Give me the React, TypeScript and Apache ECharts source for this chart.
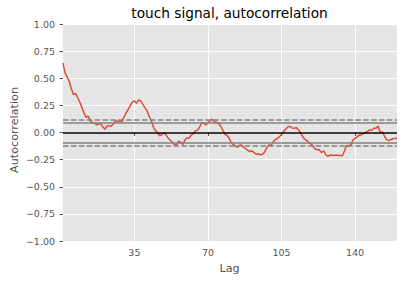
import React, { useEffect, useRef } from "react";
import * as echarts from "echarts";

const lags: number[] = Array.from({ length: 160 }, (_, i) => i + 1);
const acf: number[] = [
  0.64, 0.55, 0.51, 0.47, 0.40, 0.35, 0.36, 0.32, 0.28, 0.23,
  0.18, 0.14, 0.15, 0.11, 0.09, 0.09, 0.07, 0.08, 0.08, 0.05,
  0.03, 0.06, 0.06, 0.06, 0.08, 0.11, 0.10, 0.11, 0.10, 0.14,
  0.18, 0.21, 0.25, 0.28, 0.29, 0.27, 0.30, 0.29, 0.26, 0.23,
  0.20, 0.15, 0.11, 0.05, 0.02, 0.00, -0.03, -0.02, 0.00, -0.02,
  -0.05, -0.07, -0.09, -0.11, -0.12, -0.08, -0.09, -0.11, -0.07, -0.05,
  -0.05, -0.025, -0.01, 0.015, 0.02, 0.05, 0.09, 0.09, 0.07, 0.09,
  0.11, 0.12, 0.10, 0.095, 0.085, 0.06, 0.025, -0.015, -0.025, -0.05,
  -0.09, -0.11, -0.125, -0.135, -0.12, -0.115, -0.135, -0.15, -0.165, -0.175,
  -0.17, -0.185, -0.20, -0.195, -0.205, -0.20, -0.18, -0.14, -0.115, -0.12,
  -0.09, -0.065, -0.055, -0.04, -0.02, 0.01, 0.03, 0.05, 0.058, 0.042,
  0.04, 0.045, 0.025, 0.0, -0.035, -0.06, -0.075, -0.09, -0.105, -0.125,
  -0.15, -0.16, -0.16, -0.185, -0.17, -0.20, -0.22, -0.21, -0.207, -0.213,
  -0.207, -0.213, -0.213, -0.215, -0.17, -0.12, -0.122, -0.115, -0.07, -0.055,
  -0.04, -0.025, -0.02, -0.01, 0.0, 0.01, 0.025, 0.02, 0.04, 0.04,
  0.06, 0.0, 0.005, -0.03, -0.065, -0.075, -0.065, -0.058, -0.055, -0.05,
];
const xTicks: number[] = [35, 70, 105, 140];
const conf95 = 0.092;
const conf99 = 0.121;

const FONT = "DejaVu Sans";

export default function App() {
  const ref = useRef<HTMLDivElement>(null);
  useEffect(() => {
    if (!ref.current) return;
    const chart = echarts.init(ref.current, undefined, { renderer: "svg" });
    const fmtY = (v: number) => (v < 0 ? "\u2212" : "") + Math.abs(v).toFixed(2);
    chart.setOption({
      animation: false,
      grid: {
        left: 63,
        right: 10,
        top: 24,
        bottom: 41,
        show: true,
        backgroundColor: "#E5E5E5",
        borderWidth: 0,
      },
      xAxis: {
        type: "value",
        min: 1,
        max: 160,
        axisLine: { show: false },
        axisTick: {
          show: true,
          length: 3.5,
          customValues: xTicks,
          lineStyle: { color: "#555555", width: 1 },
        },
        axisLabel: {
          customValues: xTicks,
          color: "#555555",
          fontSize: 9.5,
          fontFamily: FONT,
          margin: 6,
        },
        splitLine: { show: true, lineStyle: { color: "#FFFFFF", width: 1 } },
      },
      yAxis: {
        type: "value",
        min: -1,
        max: 1,
        interval: 0.25,
        axisLine: { show: false },
        axisTick: { show: true, length: 3.5, lineStyle: { color: "#555555", width: 1 } },
        axisLabel: {
          color: "#555555",
          fontSize: 9.5,
          fontFamily: FONT,
          margin: 8,
          formatter: fmtY,
        },
        splitLine: { show: true, lineStyle: { color: "#FFFFFF", width: 1 } },
      },
      graphic: [
        {
          type: "text",
          x: 229.5,
          y: 12.5,
          style: {
            text: "touch signal, autocorrelation",
            fontSize: 13.7,
            fontFamily: FONT,
            fill: "#000000",
            textAlign: "center",
            textVerticalAlign: "middle",
          },
        },
        {
          type: "text",
          x: 229.5,
          y: 268.5,
          style: {
            text: "Lag",
            fontSize: 11.2,
            fontFamily: FONT,
            fill: "#555555",
            textAlign: "center",
            textVerticalAlign: "middle",
          },
        },
        {
          type: "text",
          x: 14,
          y: 130,
          rotation: Math.PI / 2,
          style: {
            text: "Autocorrelation",
            fontSize: 11.2,
            fontFamily: FONT,
            fill: "#555555",
            textAlign: "center",
            textVerticalAlign: "middle",
          },
        },
      ],
      series: [
        {
          type: "line",
          data: [],
          z: 1,
          silent: true,
          markLine: {
            silent: true,
            symbol: "none",
            label: { show: false },
            animation: false,
            data: [
              { yAxis: conf99, lineStyle: { color: "#808080", width: 1.5, type: [5.5, 2.4] } },
              { yAxis: conf95, lineStyle: { color: "#808080", width: 1.5, type: "solid" } },
              { yAxis: 0, lineStyle: { color: "#000000", width: 1.5, type: "solid" } },
              { yAxis: -conf95, lineStyle: { color: "#808080", width: 1.5, type: "solid" } },
              { yAxis: -conf99, lineStyle: { color: "#808080", width: 1.5, type: [5.5, 2.4] } },
            ],
          },
        },
        {
          type: "line",
          z: 3,
          data: lags.map((l, i) => [l, acf[i]]),
          showSymbol: false,
          symbol: "none",
          lineStyle: { color: "#E24A33", width: 1.5 },
        },
      ],
    });
    return () => chart.dispose();
  }, []);
  return <div ref={ref} style={{ width: 407, height: 282, position: "absolute", left: 0, top: 0 }} />;
}
